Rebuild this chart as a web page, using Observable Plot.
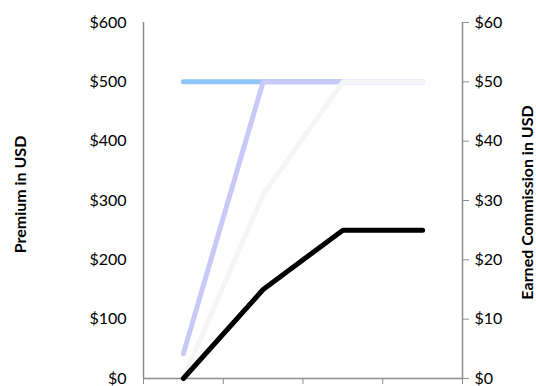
<!DOCTYPE html>
<html>
<head>
<meta charset="utf-8">
<script src="https://cdn.jsdelivr.net/npm/d3@7"></script>
<script src="https://cdn.jsdelivr.net/npm/@observablehq/plot@0.6"></script>
<style>
  html, body { margin: 0; padding: 0; background: #fff; overflow: hidden; }
  #chart { position: relative; width: 536px; height: 386px; overflow: hidden; }
</style>
</head>
<body>
<div id="chart"></div>
<script>
const categories = ["Month 1", "Month 2", "Month 3", "Month 4"];
const premiumA = [500, 500, 500, 500];
const premiumB = [42, 500, 500, 500];
const premiumC = [0, 310, 500, 500];
const commission = [0, 15, 25, 25];
const yTicks = [0, 100, 200, 300, 400, 500, 600];

const seriesList = [
  {name: "A", values: premiumA, color: "#92c5f7"},
  {name: "B", values: premiumB, color: "#c9c9f8"},
  {name: "C", values: premiumC, color: "#f5f5f5"}
];
const rows = seriesList.flatMap(s => s.values.map((v, i) => ({series: s.name, i: i + 0.5, v})));
const comm = commission.map((c, i) => ({i: i + 0.5, v: c * 10}));

const font = "Lato, 'Open Sans', sans-serif";
const grey = "#8c8c8c";

const chart = Plot.plot({
  width: 536,
  height: 412,
  marginLeft: 143,
  marginRight: 74,
  marginTop: 22,
  marginBottom: 34,
  style: {fontFamily: font, fontSize: "16px", color: "#000", background: "#fff"},
  x: {type: "linear", domain: [0, 4]},
  y: {domain: [0, 600]},
  marks: [
    Plot.axisX({ticks: [0, 1, 2, 3, 4], tickFormat: () => "", tickSize: 6, stroke: grey}),
    Plot.axisX({ticks: [0.5, 1.5, 2.5, 3.5], tickFormat: d => categories[Math.floor(d)], tickSize: 0, tickPadding: 12, fill: "#000", fontSize: 16}),
    Plot.ruleY([0], {stroke: grey, strokeWidth: 1.5}),
    Plot.ruleX([0], {stroke: grey, strokeWidth: 1.5}),
    Plot.ruleX([4], {stroke: grey, strokeWidth: 1.5}),
    Plot.axisY({ticks: yTicks, tickFormat: d => "$" + d, tickSize: 0, tickPadding: 17, label: null, fontSize: 16}),
    Plot.axisY({anchor: "right", ticks: yTicks, tickFormat: d => "$" + (d / 10), tickSize: 6, tickPadding: 6, stroke: grey, label: null, fontSize: 16}),
    ...seriesList.map(s => Plot.line(rows.filter(r => r.series === s.name), {
      x: "i", y: "v", stroke: s.color, strokeWidth: 5, strokeLinecap: "round", strokeLinejoin: "round"
    })),
    Plot.line(comm, {x: "i", y: "v", stroke: "#000", strokeWidth: 5, strokeLinecap: "round", strokeLinejoin: "round"}),
    Plot.text(["Premium in USD"], {frameAnchor: "left", dx: -123, dy: -6, rotate: -90, textAnchor: "middle", fontWeight: "bold", fontSize: 16, fill: "#000"}),
    Plot.text(["Earned Commission in USD"], {frameAnchor: "right", dx: 65, dy: 2, rotate: -90, textAnchor: "middle", fontWeight: "bold", fontSize: 16, fill: "#000"})
  ]
});
document.getElementById("chart").appendChild(chart);
</script>
</body>
</html>
